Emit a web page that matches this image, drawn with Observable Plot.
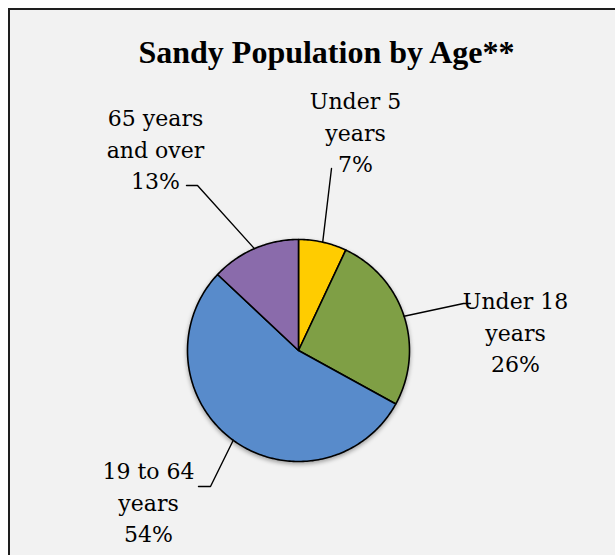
<!DOCTYPE html>
<html>
<head>
<meta charset="utf-8">
<script src="https://cdn.jsdelivr.net/npm/d3@7"></script>
<script src="https://cdn.jsdelivr.net/npm/@observablehq/plot@0.6"></script>
<style>
  html, body { margin: 0; padding: 0; background: #ffffff; }
  #wrap { position: relative; width: 615px; height: 555px; overflow: hidden; background: #ffffff; }
  #panel { position: absolute; left: 8px; top: 8px; width: 620px; height: 560px;
           background: #f2f2f2; border-left: 2px solid #1e1e1e; border-top: 2px solid #1e1e1e; box-sizing: border-box; }
  #title { position: absolute; left: 0; width: 653px; top: 36px; text-align: center; line-height: 32px;
           font-family: "Liberation Serif", serif; font-weight: bold; font-size: 32px; color: #000; margin: 0; white-space: nowrap; }
  #chart { position: absolute; left: 0; top: 0; }
</style>
</head>
<body>
<div id="wrap">
  <div id="panel"></div>
  <div id="chart"></div>
  <h2 id="title">Sandy Population by Age**</h2>
</div>
<script>
// ---- data ----
const categories = ["Under 5 years", "Under 18 years", "19 to 64 years", "65 years and over"];
const shares = [7, 26, 54, 13];
const labelLines = [["Under 5", "years", "7%"], ["Under 18", "years", "26%"], ["19 to 64", "years", "54%"], ["65 years", "and over", "13%"]];
const colors = ["#FFCC00", "#7F9F45", "#588BCB", "#8A6BAB"];

// ---- layout (positions only) ----
const W = 615, H = 555;
const center = {x: 298, y: 350}, radius = 111;
const labelAnchor = [ {x: 355, y: 130}, {x: 515, y: 330}, {x: 148, y: 500}, {x: 155, y: 147} ];
const leaderElbow = [ [{x: 331, y: 168}], [{x: 463, y: 303}, {x: 470, y: 303}], [{x: 210, y: 486}, {x: 198, y: 486}], [{x: 197, y: 185}, {x: 186, y: 185}] ];

// ---- build slices ----
const arcs = d3.pie().sort(null).value(d => d)(shares);
const slicePts = [];
arcs.forEach((a, i) => {
  const cat = categories[i];
  slicePts.push({cat, x: center.x, y: center.y});
  const n = Math.max(2, Math.ceil((a.endAngle - a.startAngle) / (Math.PI / 180)));
  for (let k = 0; k <= n; k++) {
    const t = a.startAngle + (a.endAngle - a.startAngle) * k / n;
    slicePts.push({cat, x: center.x + radius * Math.sin(t), y: center.y - radius * Math.cos(t)});
  }
  slicePts.push({cat, x: center.x, y: center.y});
});

const leaderPts = [];
arcs.forEach((a, i) => {
  const m = (a.startAngle + a.endAngle) / 2;
  leaderPts.push({cat: categories[i], x: center.x + radius * Math.sin(m), y: center.y - radius * Math.cos(m)});
  leaderElbow[i].forEach(p => leaderPts.push({cat: categories[i], x: p.x, y: p.y}));
});

const labels = categories.map((c, i) => ({cat: c, text: labelLines[i].join("\n"), x: labelAnchor[i].x, y: labelAnchor[i].y}));

const chart = Plot.plot({
  width: W, height: H,
  margin: 0,
  style: {background: "transparent", overflow: "visible"},
  x: {domain: [0, W], range: [0, W], axis: null},
  y: {domain: [0, H], range: [0, H], axis: null},
  color: {domain: categories, range: colors},
  marks: [
    Plot.line(slicePts, {x: "x", y: "y", z: "cat", fill: "cat", stroke: "#000", strokeWidth: 1.6, curve: "linear-closed", strokeLinejoin: "round"}),
    Plot.line(leaderPts, {x: "x", y: "y", z: "cat", stroke: "#000", strokeWidth: 1.4}),
    Plot.text(labels, {x: "x", y: "y", text: "text", fontSize: 22, lineHeight: 1.43, fill: "#000",
      fontFamily: "DejaVu Serif", textAnchor: "middle", lineAnchor: "middle"})
  ]
});
const pieG = chart.querySelector('g[aria-label="line"]');
if (pieG) pieG.style.filter = "drop-shadow(0px 2px 2px rgba(0,0,0,0.35))";
document.getElementById("chart").appendChild(chart);
</script>
</body>
</html>
